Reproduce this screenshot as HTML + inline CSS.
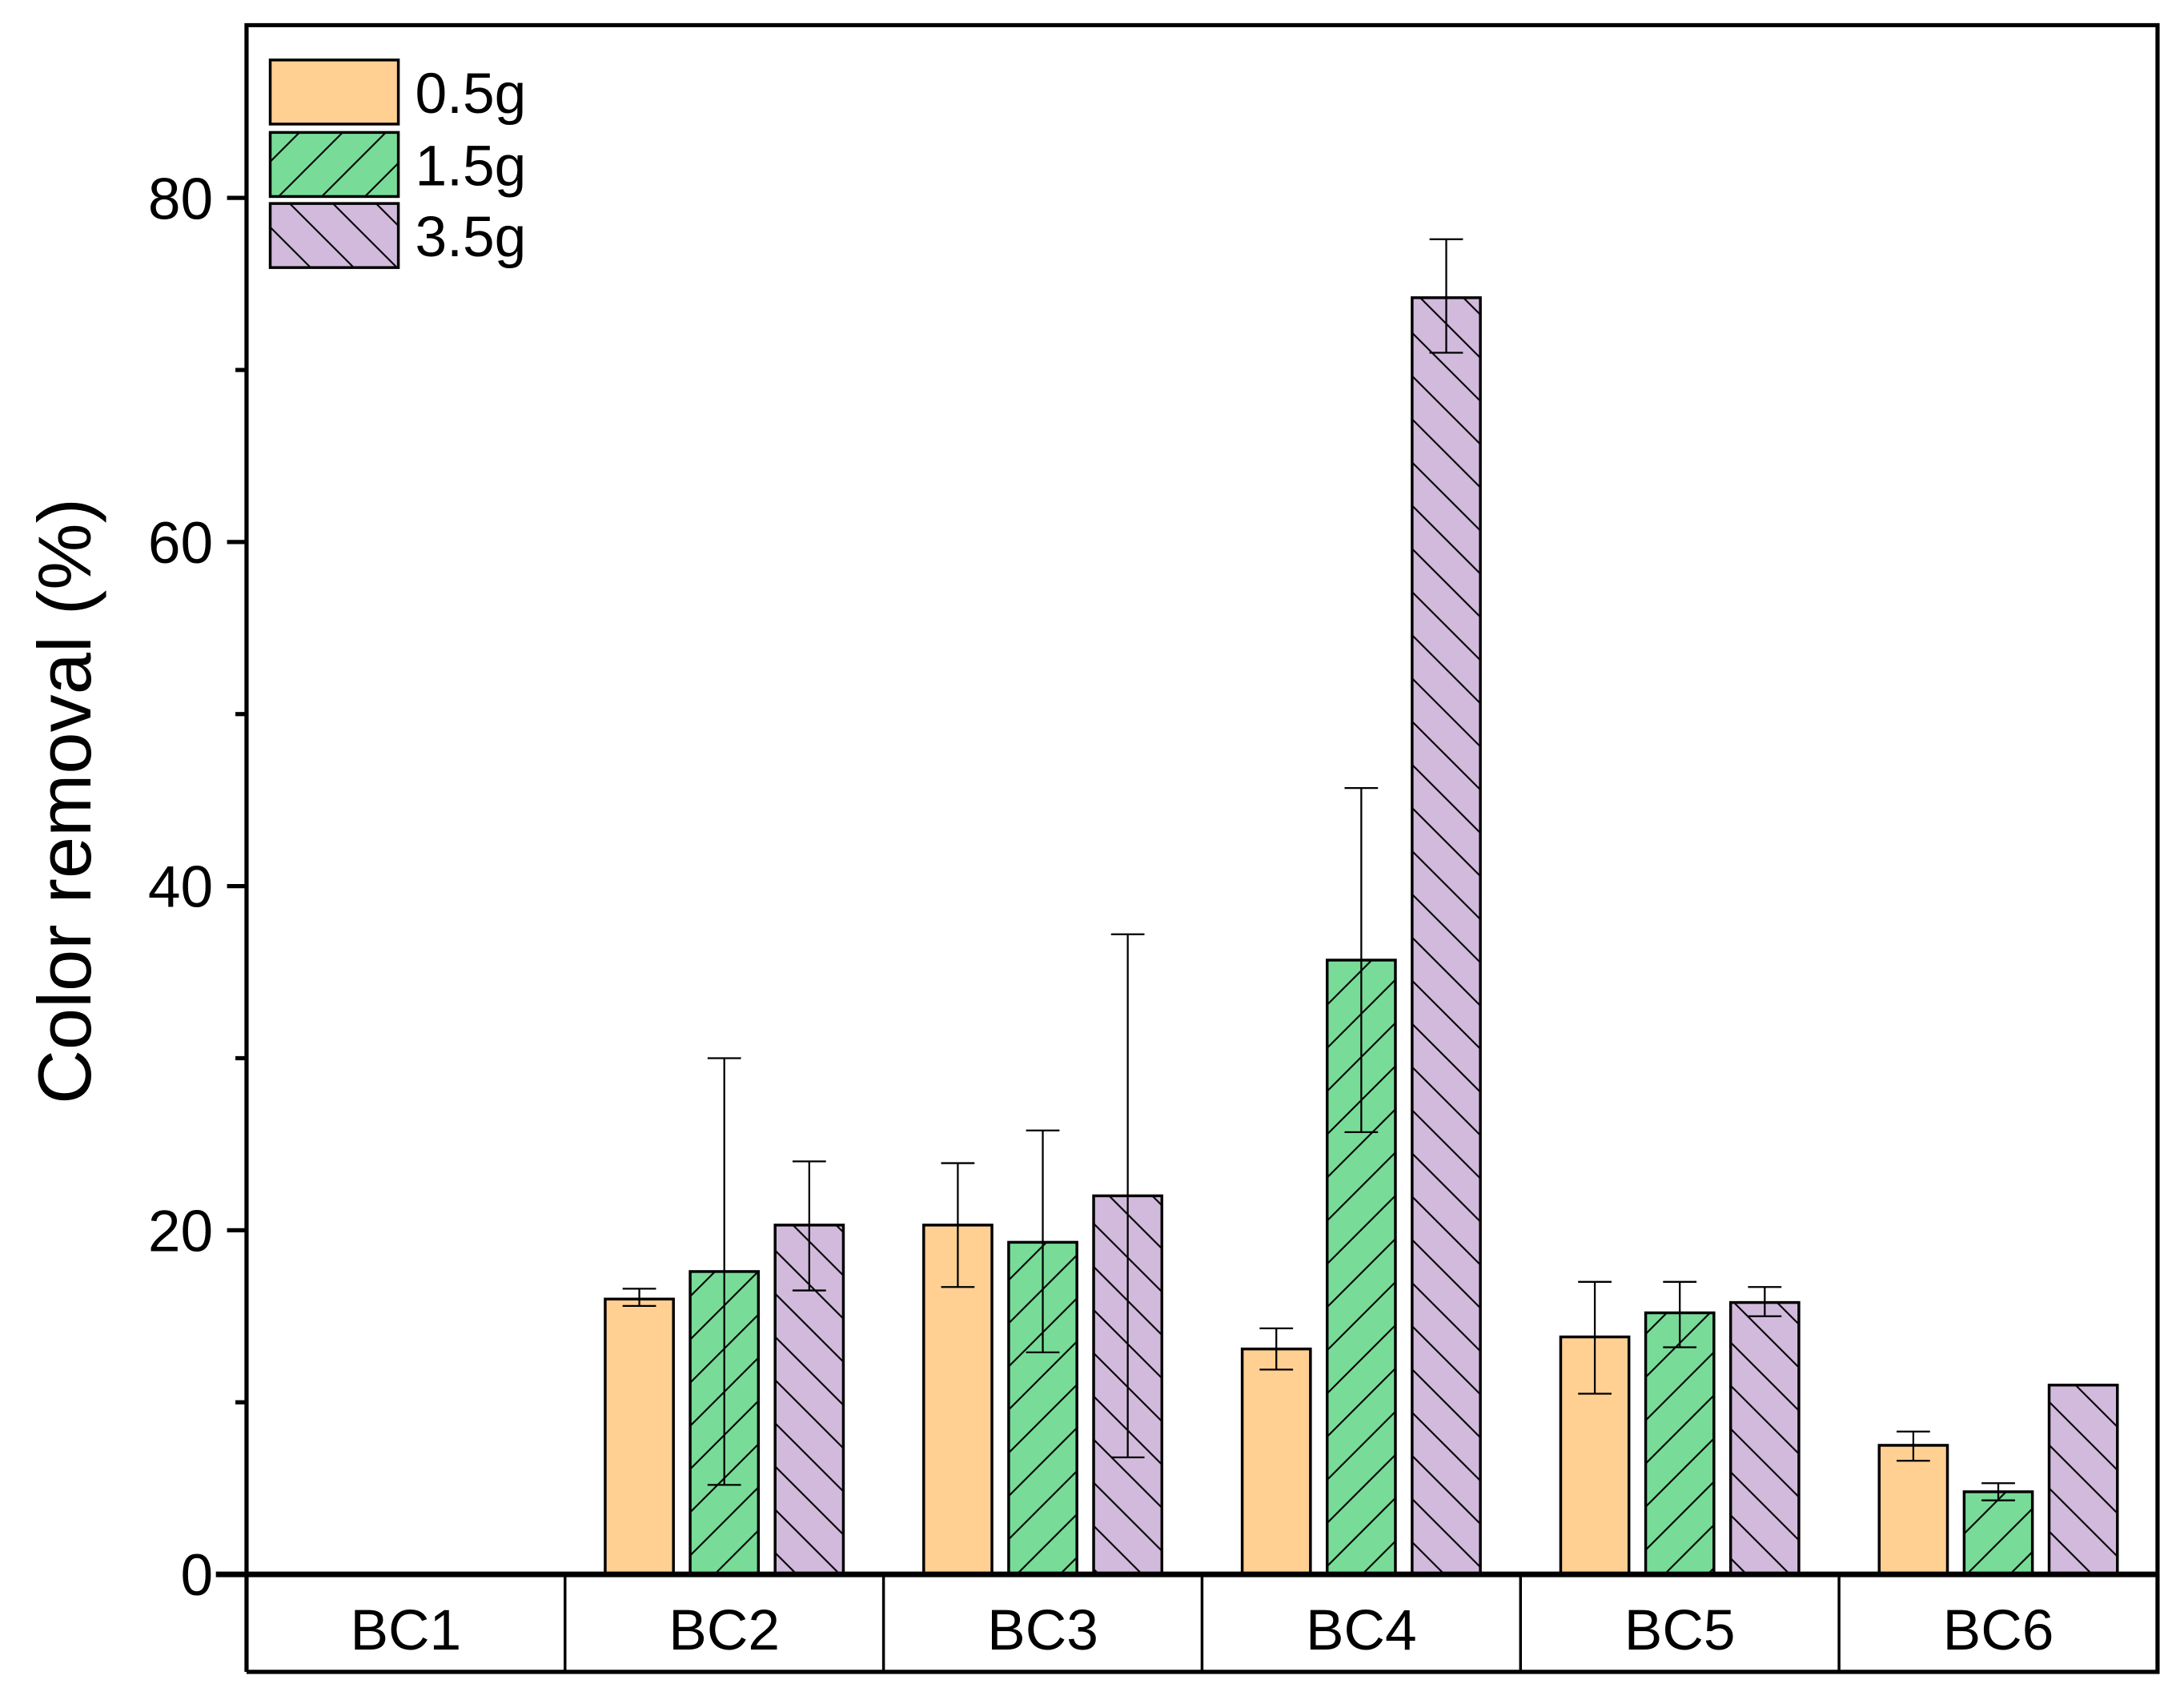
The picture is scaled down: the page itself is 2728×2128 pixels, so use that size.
<!DOCTYPE html>
<html><head><meta charset="utf-8"><style>
html,body{margin:0;padding:0;background:#fff;}
svg{display:block;font-family:"Liberation Sans",Arial,sans-serif;}
</style></head><body>
<svg id="chart" width="2728" height="2128" viewBox="0 0 1568 1223" xmlns="http://www.w3.org/2000/svg">
<defs>
<pattern id="hatchF" patternUnits="userSpaceOnUse" width="31" height="31"><path d="M-2,33 L33,-2 M-8,8 L8,-8 M23,39 L39,23" stroke="#000" stroke-width="1.2"/></pattern>
<pattern id="hatchB" patternUnits="userSpaceOnUse" width="31" height="31"><path d="M-2,-2 L33,33 M23,-8 L39,8 M-8,23 L8,39" stroke="#000" stroke-width="1.2"/></pattern>
</defs>
<g id="plot"></g>
</svg>
<script>
const categories=["BC1","BC2","BC3","BC4","BC5","BC6"];
const seriesNames=["0.5g","1.5g","3.5g"];
const s05=[0,16.0,20.3,13.1,13.8,7.5];
const s15=[0,17.6,19.3,35.7,15.2,4.8];
const s35=[0,20.3,22.0,74.2,15.8,11.0];
const s05lo=[0,15.6,16.7,11.9,10.5,6.6];
const s05hi=[0,16.6,23.9,14.3,17.0,8.3];
const s15lo=[0,5.2,12.9,25.7,13.2,4.3];
const s15hi=[0,30.0,25.8,45.7,17.0,5.3];
const s35lo=[0,16.5,6.8,71.0,15.0,11.0];
const s35hi=[0,24.0,37.2,77.6,16.7,11.0];
const yTicks=[0,20,40,60,80];
const yMinor=[10,30,50,70];

const NS="http://www.w3.org/2000/svg";
const g=document.getElementById('plot');
const L=177,R=1549,T=18,Y0=1130,B=1200;
const y=v=>Y0-v*(1130-142)/80;
const cellW=(R-L)/categories.length;
const xc=i=>L+cellW*(i+0.5);
function mk(t,a,p){const e=document.createElementNS(NS,t);for(const k in a)e.setAttribute(k,a[k]);(p||g).appendChild(e);return e;}
const fills=["#FFD092","#78DC98","#D2BADD"];
const pats=[null,"url(#hatchF)","url(#hatchB)"];
const vals=[s05,s15,s35],los=[s05lo,s15lo,s35lo],his=[s05hi,s15hi,s35hi];
const bw=49,off=[-61,0,61];
categories.forEach((c,i)=>{
  vals.forEach((arr,s)=>{
    const v=arr[i]; if(v<=0) return;
    const x0=xc(i)+off[s]-bw/2, yt=y(v);
    let r=mk('rect',{x:x0,y:yt,width:bw,height:Y0-yt,fill:fills[s]});
    
    
    if(pats[s]){let h=mk('rect',{x:x0,y:yt,width:bw,height:Y0-yt,fill:pats[s]});
      
      }
    let o=mk('rect',{x:x0,y:yt,width:bw,height:Y0-yt,fill:'none',stroke:'#000','stroke-width':2});
    
    
    const lo=los[s][i],hi=his[s][i];
    if(hi-lo>0.05){
      const cx=xc(i)+off[s];
      let eb=mk('path',{d:`M${cx},${y(lo)}V${y(hi)}M${cx-12},${y(lo)}H${cx+12}M${cx-12},${y(hi)}H${cx+12}`,stroke:'#000','stroke-width':1.3,fill:'none'});
      
      
    }
  });
});
let ax=mk('path',{d:`M${L},${B}V${T}H${R}V${B}H${L}M${L},${Y0}H${R}`,stroke:'#000','stroke-width':3,fill:'none'});


let z=mk('line',{x1:L-22,x2:R,y1:Y0,y2:Y0,stroke:'#000','stroke-width':4});


for(let i=1;i<categories.length;i++){
  let d=mk('line',{x1:L+cellW*i,x2:L+cellW*i,y1:Y0,y2:B,stroke:'#000','stroke-width':2});
  
  
}
categories.forEach((c,i)=>{
  let t=mk('text',{x:xc(i),y:1184,'text-anchor':'middle','font-size':41});t.textContent=c;
  
  
});
yTicks.forEach(v=>{
  let l=mk('line',{x1:L-14,x2:L,y1:y(v),y2:y(v),stroke:'#000','stroke-width':3});
  
  
  let t=mk('text',{x:L-24,y:y(v)+15,'text-anchor':'end','font-size':42});t.textContent=v;
  
  
});
yMinor.forEach(v=>{
  let l=mk('line',{x1:L-8,x2:L,y1:y(v),y2:y(v),stroke:'#000','stroke-width':3});
  
  
});
let yt=mk('text',{x:0,y:0,'text-anchor':'middle','font-size':54,transform:'translate(65,575) rotate(-90)'});yt.textContent='Color removal (%)';


const ly=[43,95,146];
seriesNames.forEach((n,s)=>{
  let r=mk('rect',{x:194,y:ly[s],width:92,height:46,fill:fills[s]});
  
  
  if(pats[s]){let h=mk('rect',{x:194,y:ly[s],width:92,height:46,fill:pats[s]});
    
    }
  let o=mk('rect',{x:194,y:ly[s],width:92,height:46,fill:'none',stroke:'#000','stroke-width':2});
  
  
  let t=mk('text',{x:298,y:ly[s]+38,'font-size':41});t.textContent=n;
  
  
});
</script>
</body></html>
